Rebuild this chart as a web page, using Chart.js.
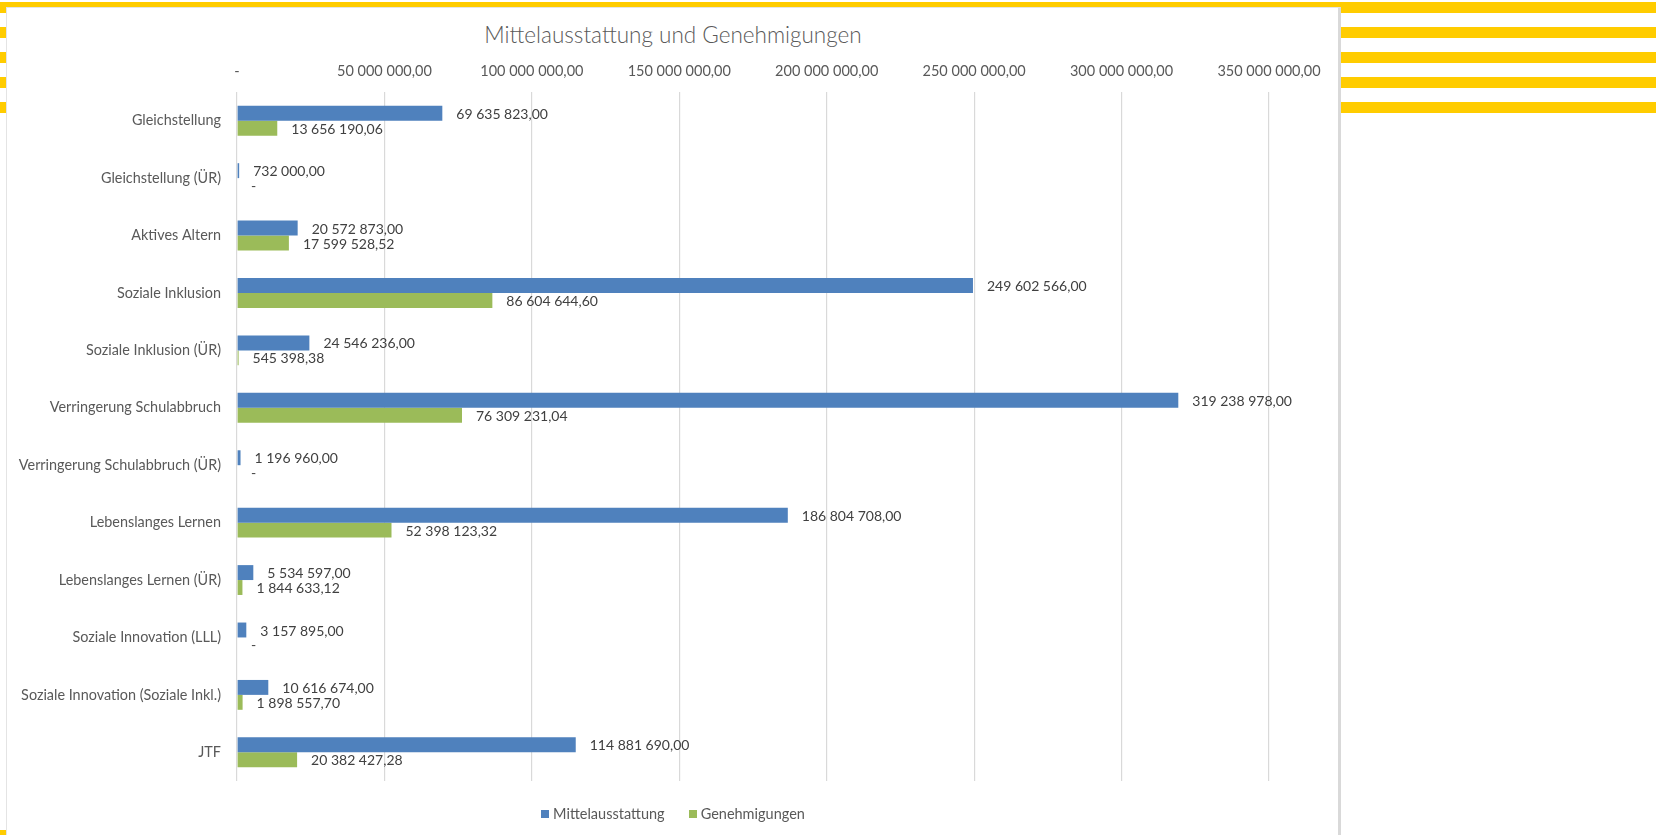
<!DOCTYPE html>
<html lang="de">
<head>
<meta charset="utf-8">
<title>Mittelausstattung und Genehmigungen</title>
<script src="https://cdn.jsdelivr.net/npm/chart.js@4.4.1/dist/chart.umd.min.js"></script>
<style>
    html, body { margin: 0; padding: 0; }
    body {
        width: 1656px; height: 835px; position: relative; overflow: hidden;
        background: #fff; font-family: Lato, sans-serif;
    }
    .stripe { position: absolute; left: 0; width: 1656px; height: 11px; background: #FFCC00; }
    .box {
        position: absolute; left: 6px; top: 7px; width: 1335px; height: 828px;
        box-sizing: border-box; background: #fff;
        border-left: 1px solid #e4e4e4; border-top: 1px solid #e4e4e4; border-right: 3px solid #d9d9d9;
    }
    #chartWrap { position: absolute; left: 0; top: 0; width: 1656px; height: 835px; }
    .title {
        position: absolute; left: 7px; width: 1332px; top: 21px; text-align: center;
        font-size: 22.5px; color: #595959; font-weight: 300;
    }
    .legend {
        position: absolute; left: 7px; width: 1332px; top: 805px;
        display: flex; justify-content: center; gap: 24px;
        font-size: 14.5px; color: #595959;
    }
    .legend span { display: inline-flex; align-items: center; }
    .legend i { display: inline-block; width: 8px; height: 8px; margin-right: 4px; }
</style>
</head>
<body>
<div class="stripe" style="top:2px"></div>
<div class="stripe" style="top:27px"></div>
<div class="stripe" style="top:52px"></div>
<div class="stripe" style="top:77px"></div>
<div class="stripe" style="top:102px"></div>
<div class="stripe" style="top:830px; width:7px; height:5px"></div>
<div class="box"></div>
<div class="title">Mittelausstattung und Genehmigungen</div>
<div id="chartWrap"><canvas id="fundsChart" width="1656" height="835"></canvas></div>
<div class="legend">
    <span><i style="background:#4F81BD"></i>Mittelausstattung</span>
    <span><i style="background:#9BBB59"></i>Genehmigungen</span>
</div>
<script>
// ====== DATEN ======
const categories = [
    'Gleichstellung',
    'Gleichstellung (ÜR)',
    'Aktives Altern',
    'Soziale Inklusion',
    'Soziale Inklusion (ÜR)',
    'Verringerung Schulabbruch',
    'Verringerung Schulabbruch (ÜR)',
    'Lebenslanges Lernen',
    'Lebenslanges Lernen (ÜR)',
    'Soziale Innovation (LLL)',
    'Soziale Innovation (Soziale Inkl.)',
    'JTF'
];
const mittelausstattung = [
    69635823.00, 732000.00, 20572873.00, 249602566.00, 24546236.00, 319238978.00,
    1196960.00, 186804708.00, 5534597.00, 3157895.00, 10616674.00, 114881690.00
];
const genehmigungen = [
    13656190.06, 0, 17599528.52, 86604644.60, 545398.38, 76309231.04,
    0, 52398123.32, 1844633.12, 0, 1898557.70, 20382427.28
];
const axisMin = 0;
const axisMax = 350000000;
const axisStep = 50000000;

// Zahlen im Format "69 635 823,00", Null als "-"
function fmt(v) {
    if (!v) return '-';
    const parts = v.toFixed(2).split('.');
    return parts[0].replace(/\B(?=(\d{3})+(?!\d))/g, ' ') + ',' + parts[1];
}

// Werte rechts neben den Balken
const valueLabels = {
    id: 'valueLabels',
    afterDatasetsDraw(chart) {
        const ctx = chart.ctx;
        ctx.save();
        ctx.font = '14px Lato';
        ctx.fillStyle = '#404040';
        ctx.textAlign = 'left';
        ctx.textBaseline = 'middle';
        chart.data.datasets.forEach((ds, i) => {
            chart.getDatasetMeta(i).data.forEach((bar, j) => {
                ctx.fillText(fmt(ds.data[j]), bar.x + 14, bar.y + 1);
            });
        });
        ctx.restore();
    }
};

const ctx = document.getElementById('fundsChart');

new Chart(ctx, {
    type: 'bar',
    data: {
        labels: categories,
        datasets: [
            {
                label: 'Mittelausstattung',
                data: mittelausstattung,
                backgroundColor: '#4F81BD',
                categoryPercentage: 0.52,
                barPercentage: 1
            },
            {
                label: 'Genehmigungen',
                data: genehmigungen,
                backgroundColor: '#9BBB59',
                categoryPercentage: 0.52,
                barPercentage: 1
            }
        ]
    },
    options: {
        indexAxis: 'y',
        responsive: false,
        animation: false,
        layout: {
            padding: { top: 48, left: 0, right: 387, bottom: 54 }
        },
        plugins: {
            legend: { display: false },
            title: { display: false },
            tooltip: { enabled: false }
        },
        scales: {
            x: {
                position: 'top',
                min: axisMin,
                max: axisMax,
                afterFit: (scale) => { scale.height = 44; },
                grid: { color: '#d9d9d9', lineWidth: 1.2, drawTicks: false },
                border: { display: false },
                ticks: {
                    stepSize: axisStep,
                    padding: 12,
                    color: '#595959',
                    font: { family: 'Lato', size: 14.5 },
                    callback: function (value) {
                        return value === 0 ? '-' : fmt(value);
                    }
                }
            },
            y: {
                afterFit: (scale) => { scale.width = 237; },
                grid: { display: false, drawTicks: false },
                border: { display: false },
                ticks: {
                    padding: 16,
                    color: '#595959',
                    font: { family: 'Lato', size: 14.4 }
                }
            }
        }
    },
    plugins: [valueLabels]
});
</script>
</body>
</html>
